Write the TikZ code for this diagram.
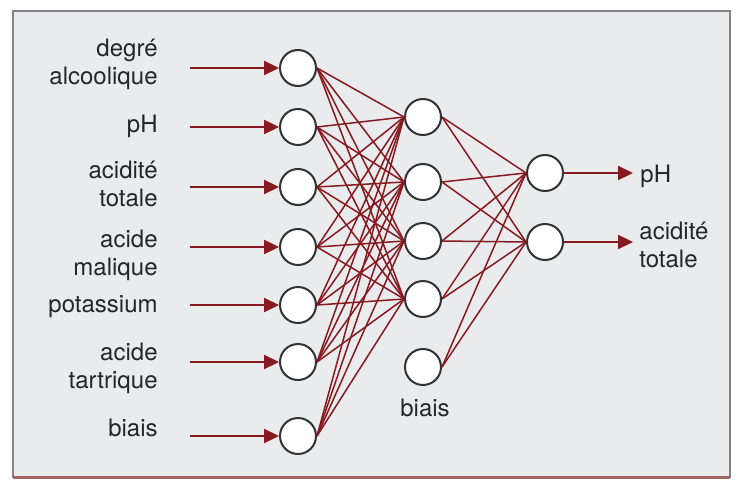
\documentclass[tikz,border=0pt]{standalone}
\usepackage{fontspec}
\setmainfont{TeX Gyre Heros}
\usetikzlibrary{arrows.meta}
\definecolor{vin}{RGB}{135,25,32}
\definecolor{fond}{RGB}{233,235,236}
\definecolor{cadre}{RGB}{135,128,130}
\definecolor{brun}{RGB}{160,100,100}

\begin{document}
\begin{tikzpicture}[x=0.5pt, y=-0.5pt,
		neurone/.style={circle, draw=black!80, line width=1pt, fill=white, minimum size=18pt, inner sep=0pt},
		lien/.style={vin, line width=0.75pt},
		fleche/.style={vin, line width=1.1pt, -{Triangle[length=7.5pt, width=7pt]}},
		etiq/.style={font=\fontsize{12}{14}\selectfont, text=black!85, inner sep=0pt}]
			\useasboundingbox (0,0) rectangle (737,481);
			\fill[fond] (13,11) rectangle (730,477);
			\draw[cadre, line width=1pt] (13,11) rectangle (730,477);
			\draw[brun, line width=1.5pt] (13,477) -- (730,477);
			\foreach \i/\y in {1/68, 2/127, 3/187, 4/247, 5/305, 6/362, 7/436} {
				\node[neurone] (e\i) at (298,\y) {};
				\coordinate (a\i) at (190,\y);
				\draw[fleche] (a\i) -- (e\i);
			}
			\foreach \j/\y in {1/117, 2/182, 3/241, 4/299, 5/367}
				\node[neurone] (c\j) at (423,\y) {};
			\foreach \k/\y in {1/173, 2/242} {
				\node[neurone] (s\k) at (545,\y) {};
				\coordinate (b\k) at (633,\y);
				\draw[fleche] (s\k) -- (b\k);
			}
			\foreach \i in {1,...,7}
				\foreach \j in {1,...,4}
					\draw[lien] (e\i.east) -- (c\j.west);
			\foreach \j in {1,...,5}
				\foreach \k in {1,2}
					\draw[lien] (c\j.east) -- (s\k.west);
			\foreach \t/\y [count=\n] in {{degré\\alcoolique}/64, pH/126, {acidité\\totale}/184, {acide\\malique}/255, potassium/307, {acide\\tartrique}/368, biais/428}
				\node[etiq, align=right, anchor=east] (l\n) at (158,\y) {\t};
			\node[etiq] (lb) at (425,408) {biais};
			\node[etiq, anchor=west] (r1) at (640,176) {pH};
			\node[etiq, align=left, anchor=west] (r2) at (639,245) {acidité\\totale};
		\end{tikzpicture}
\end{document}
